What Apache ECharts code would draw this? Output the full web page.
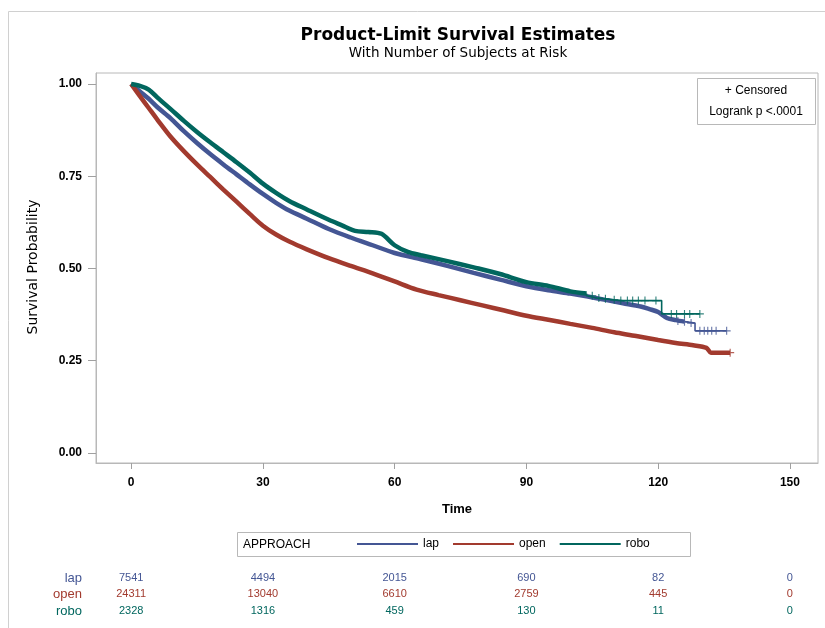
<!DOCTYPE html>
<html><head><meta charset="utf-8">
<script src="https://cdn.jsdelivr.net/npm/echarts@6/dist/echarts.min.js"></script>
<style>html,body{margin:0;padding:0;background:#fff;}#c{width:825px;height:628px;}</style>
</head><body><div id="c"></div>
<script>
// ---------- data ----------
const groups = ['lap', 'open', 'robo'];

const lapTime = [0,2,4,6,9,12,15,18,21,24,27,30,33,36,40,45,50,55,60,66,72,78,84,90,95,100,104,108,112,116,118,120,122,124,126,128.4,128.4,135.6];
const lapSurv = [1,0.98,0.96,0.937,0.907,0.872,0.84,0.81,0.782,0.755,0.728,0.702,0.678,0.657,0.635,0.607,0.584,0.563,0.542,0.525,0.507,0.488,0.47,0.452,0.441,0.432,0.424,0.415,0.406,0.397,0.39,0.382,0.366,0.36,0.356,0.352,0.331,0.331];

const openTime = [0,2,4,6,9,12,15,18,21,24,27,30,33,36,40,45,50,55,60,65,70,75,80,85,90,95,100,105,110,115,120,124,128,131,132,136.4];
const openSurv = [1,0.967,0.935,0.903,0.857,0.818,0.782,0.748,0.714,0.681,0.648,0.616,0.592,0.573,0.552,0.528,0.507,0.487,0.465,0.443,0.428,0.414,0.4,0.386,0.372,0.361,0.35,0.339,0.327,0.317,0.306,0.298,0.292,0.285,0.272,0.272];

const roboTime = [0,2,4,6,9,12,15,18,21,24,27,30,33,36,40,45,48,51,54,57,60,63,66,72,78,84,90,95,100,103.7,103.7,106,110,112,120.8,120.8,129.5];
const roboSurv = [1,0.995,0.985,0.963,0.932,0.9,0.87,0.842,0.815,0.788,0.76,0.73,0.705,0.683,0.66,0.632,0.617,0.602,0.599,0.594,0.563,0.545,0.536,0.52,0.503,0.485,0.463,0.453,0.438,0.432,0.426,0.42,0.415,0.413,0.413,0.377,0.377];

// censored observations in the sparse tail
const lapCensor = [[124.5,0.358],[126,0.356],[127.5,0.352],[129.5,0.331],[130.5,0.331],[131.3,0.331],[132.2,0.331],[133.2,0.331],[135.6,0.331]];
const openCensor = [[136.4,0.272]];
const roboCensor = [[105,0.426],[106.5,0.42],[108,0.418],[110,0.415],[111.5,0.413],[113,0.413],[114.2,0.413],[115.5,0.413],[117,0.413],[119.5,0.413],[123,0.377],[124.2,0.377],[126,0.377],[127.2,0.377],[129.5,0.377]];

const xTicks = [0, 30, 60, 90, 120, 150];
const yTicks = [0, 0.25, 0.5, 0.75, 1];

const riskTimes = [0, 30, 60, 90, 120, 150];
const lapRisk = [7541, 4494, 2015, 690, 82, 0];
const openRisk = [24311, 13040, 6610, 2759, 445, 0];
const roboRisk = [2328, 1316, 459, 130, 11, 0];

// ---------- styling ----------
const colors = { lap: '#445694', open: '#A23A2E', robo: '#01665E' };
const thickCut = { lap: 126, open: 140, robo: 103.7 };
const FONT = '"Liberation Sans", Arial, sans-serif';
const WIDE = '"DejaVu Sans", Verdana, sans-serif';
const NARROW = '"Liberation Sans Narrow", "Liberation Sans", Arial, sans-serif';
const plusPath = 'path://M4.3,0H5.7V4.3H10V5.7H5.7V10H4.3V5.7H0V4.3H4.3Z';

const curves = {
  lap: { t: lapTime, s: lapSurv, c: lapCensor, r: lapRisk },
  open: { t: openTime, s: openSurv, c: openCensor, r: openRisk },
  robo: { t: roboTime, s: roboSurv, c: roboCensor, r: roboRisk }
};

const series = [];
groups.forEach(g => {
  const d = curves[g];
  const pairs = d.t.map((t, i) => [t, d.s[i]]);
  let idx = d.t.findIndex(t => t >= thickCut[g]);
  if (idx < 0) idx = pairs.length - 1;
  const thick = pairs.slice(0, idx + 1);
  const thin = pairs.slice(idx);
  series.push({
    name: g, type: 'line', data: thick, showSymbol: false, symbol: 'none',
    smooth: 0.3,
    lineStyle: { color: colors[g], width: 4.5 }, itemStyle: { color: colors[g] },
    z: 3
  });
  if (thin.length > 1) {
    series.push({
      name: g, type: 'line', data: thin, showSymbol: false, symbol: 'none',
      lineStyle: { color: colors[g], width: 1.6 }, itemStyle: { color: colors[g] },
      z: 3
    });
  }
  series.push({
    name: g, type: 'scatter', data: d.c, symbol: plusPath, symbolSize: 8,
    itemStyle: { color: colors[g] }, z: 4
  });
});

const chart = echarts.init(document.getElementById('c'), null, { renderer: 'canvas' });

const base = {
  animation: false,
  backgroundColor: '#fff',
  grid: { left: 96, top: 73, width: 722, height: 390, show: true, borderColor: '#b8b8b8', borderWidth: 1, containLabel: false },
  xAxis: {
    type: 'value', min: -8, max: 156.4,
    axisLine: { show: true, onZero: false, lineStyle: { color: '#b8b8b8' } },
    axisTick: { show: true, customValues: xTicks, length: 6, lineStyle: { color: '#a0a0a0' } },
    axisLabel: { customValues: xTicks, margin: 14, fontFamily: NARROW, fontSize: 12, fontWeight: 'bold', color: '#000' },
    splitLine: { show: false },
    name: 'Time', nameLocation: 'middle', nameGap: 40,
    nameTextStyle: { fontFamily: FONT, fontSize: 13, fontWeight: 'bold', color: '#000' }
  },
  yAxis: {
    type: 'value', min: -0.0271, max: 1.0298,
    axisLine: { show: true, onZero: false, lineStyle: { color: '#b8b8b8' } },
    axisTick: { show: true, customValues: yTicks, length: 8, lineStyle: { color: '#a0a0a0' } },
    axisLabel: { customValues: yTicks, margin: 14, fontFamily: FONT, fontSize: 12, fontWeight: 'bold', color: '#000',
      formatter: v => v.toFixed(2) },
    splitLine: { show: false }
  },
  legend: {
    data: groups, left: 357, top: 538, icon: 'rect', itemWidth: 61, itemHeight: 2, itemGap: 14,
    textStyle: { fontFamily: FONT, fontSize: 12, color: '#000' }, padding: 0
  },
  series: series
};
chart.setOption(base);

// ---------- graphic texts (title, insets, at-risk table) ----------
const gfx = [
  { type: 'rect', shape: { x: 8.5, y: 11.5, width: 2000, height: 2000 }, style: { fill: 'none', stroke: '#d0d0d0', lineWidth: 1 }, silent: true, z: -10 },
  { type: 'text', x: 458, y: 36, style: { text: 'Product-Limit Survival Estimates', font: 'bold 17px ' + WIDE, fill: '#000', textAlign: 'center', textVerticalAlign: 'middle' } },
  { type: 'text', x: 458, y: 53, style: { text: 'With Number of Subjects at Risk', font: '13.5px ' + WIDE, fill: '#000', textAlign: 'center', textVerticalAlign: 'middle' } },
  { type: 'text', x: 33, y: 267, rotation: Math.PI / 2, style: { text: 'Survival Probability', font: '14px ' + WIDE, fill: '#000', textAlign: 'center', textVerticalAlign: 'middle' } },
  { type: 'rect', shape: { x: 697.5, y: 78.5, width: 118, height: 46 }, style: { fill: '#fff', stroke: '#b8b8b8', lineWidth: 1 }, z: 10 },
  { type: 'text', x: 756, y: 91, z: 11, style: { text: '+ Censored', font: '12px ' + FONT, fill: '#000', textAlign: 'center', textVerticalAlign: 'middle' } },
  { type: 'text', x: 756, y: 112, z: 11, style: { text: 'Logrank p <.0001', font: '12px ' + FONT, fill: '#000', textAlign: 'center', textVerticalAlign: 'middle' } },
  { type: 'rect', shape: { x: 237.5, y: 532.5, width: 453, height: 24 }, style: { fill: 'none', stroke: '#b8b8b8', lineWidth: 1 } },
  { type: 'text', x: 243, y: 545, style: { text: 'APPROACH', font: '12px ' + FONT, fill: '#000', textAlign: 'left', textVerticalAlign: 'middle' } }
];
const rowY = { lap: 578, open: 594, robo: 611 };
groups.forEach(g => {
  gfx.push({ type: 'text', x: 82, y: rowY[g], style: { text: g, font: '13px ' + FONT, fill: colors[g], textAlign: 'right', textVerticalAlign: 'middle' } });
  riskTimes.forEach((t, i) => {
    const px = chart.convertToPixel({ xAxisIndex: 0 }, t);
    gfx.push({ type: 'text', x: px, y: rowY[g], style: { text: String(curves[g].r[i]), font: '11px ' + NARROW, fill: colors[g], textAlign: 'center', textVerticalAlign: 'middle' } });
  });
});
chart.setOption({ graphic: gfx });
</script>
</body></html>
